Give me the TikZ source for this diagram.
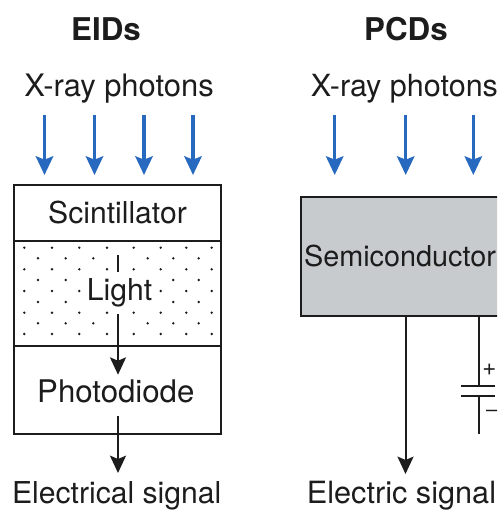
\documentclass[tikz,border=0pt]{standalone}
\usepackage{fontspec}
\setmainfont{TeX Gyre Heros}
\definecolor{photonblue}{RGB}{38, 105, 190}
\definecolor{inkblack}{RGB}{28, 28, 28}
\definecolor{semigray}{RGB}{200, 203, 205}
\usetikzlibrary{arrows.meta, positioning}
\tikzset{
  layerbox/.style={draw=inkblack, line width=1.6pt, minimum width=206.5*0.75pt, inner sep=0pt, text=inkblack, font=\fontsize{22.6}{26}\selectfont},
  plainlabel/.style={text=inkblack, inner sep=0pt, font=\fontsize{22.6}{26}\selectfont},
  headlabel/.style={text=inkblack, inner sep=0pt, font=\fontsize{23.5}{28}\selectfont\bfseries},
  photonarrow/.style={draw=photonblue, line width=2.6pt, -{Stealth[length=14pt, width=13pt, inset=2.5pt]}},
  signalarrow/.style={draw=inkblack, line width=1.5pt, -{Stealth[length=13pt, width=12pt, inset=2.5pt]}},
  wireline/.style={draw=inkblack, line width=1.5pt}
}
\begin{document}
\begin{tikzpicture}[x=0.75pt, y=-0.75pt]
  \useasboundingbox (0,0) rectangle (497,510);
  \clip (0,0) rectangle (497,510);

  % EIDs column
  \node[headlabel] (eids) at (106, 29.5) {EIDs};
  \node[plainlabel, font=\fontsize{23.2}{26}\selectfont] (eidphotons) at (119, 88.5) {X-ray photons};
  \foreach \x [count=\i] in {44.5, 94.5, 144, 193} {
    \coordinate (eidfrom\i) at (\x, 115);
    \coordinate (eidto\i) at (\x, 175);
    \draw[photonarrow] (eidfrom\i) -- (eidto\i);
  }

  \node[layerbox, minimum height=56*0.75pt] (scint) at (117.5, 213) {Scintillator};
  \node[layerbox, minimum height=105*0.75pt] (lightlayer) at (117.5, 293.5) {};
  \node[layerbox, minimum height=88*0.75pt] (photobox) at (117.5, 390) {};

  % dots, two staggered sets of rows
  \foreach \y in {247.7, 269.3, 291, 312.7, 334} {
    \foreach \x in {24.3, 52, 79.3, 107, 133.7, 160.7, 186.3, 211.7} {
      \fill[inkblack] (\x, \y) circle (1pt);
    }
  }
  \foreach \y in {258.3, 280, 302, 323.3} {
    \foreach \x in {38, 65.7, 93.3, 147.7, 173.3, 198.7} {
      \fill[inkblack] (\x, \y) circle (1pt);
    }
  }

  \node[plainlabel, fill=white, minimum width=66*0.75pt, minimum height=36*0.75pt] (light) at (119.5, 293) {Light};
  \node[plainlabel, font=\fontsize{23.4}{26}\selectfont, minimum height=33*0.75pt] (photodiode) at (115.8, 391.5) {Photodiode};
  \node[plainlabel] (elecsignal) at (116.7, 496) {Electrical signal};
  \coordinate (lightstub) at (118, 255);
  \coordinate (lightstubend) at (118, 272);
  \coordinate (lightout) at (118, 314);
  \draw[wireline] (lightstub) -- (lightstubend);
  \draw[signalarrow] (lightout) -- (lightout |- photodiode.north);
  \coordinate (photoout) at (118, 416);
  \coordinate (photoend) at (118, 473);
  \draw[signalarrow] (photoout) -- (photoend);

  % PCDs column
  \node[headlabel] (pcds) at (406, 29.5) {PCDs};
  \node[plainlabel, font=\fontsize{22.9}{26}\selectfont] (pcdphotons) at (404.5, 88.5) {X-ray photons};
  \foreach \x [count=\i] in {334.7, 405.7, 473.3} {
    \coordinate (pcdfrom\i) at (\x, 115);
    \coordinate (pcdto\i) at (\x, 175);
    \draw[photonarrow] (pcdfrom\i) -- (pcdto\i);
  }

  \node[draw=inkblack, fill=semigray, line width=1.6pt, minimum width=209*0.75pt, minimum height=119*0.75pt, inner sep=0pt] (semi) at (405.5, 256.5) {};
  \node[plainlabel, font=\fontsize{21.6}{26}\selectfont] (semilabel) at (400, 256) {Semiconductor};
  \node[plainlabel, font=\fontsize{23}{26}\selectfont] (elecout) at (401.5, 496) {Electric signal};
  \coordinate (semiend) at (405.5, 474);
  \draw[signalarrow] (semi.south) -- (semiend);

  % capacitor
  \coordinate (capfrom) at (478.5, 316);
  \coordinate (capup) at (478.5, 386);
  \coordinate (capdown) at (478.5, 396);
  \coordinate (capend) at (478.5, 434);
  \coordinate (plateupl) at (461, 386);
  \coordinate (plateupr) at (495, 386);
  \coordinate (platedownl) at (461, 396);
  \coordinate (platedownr) at (495, 396);
  \draw[wireline] (capfrom) -- (capup);
  \draw[wireline] (capdown) -- (capend);
  \draw[wireline] (plateupl) -- (plateupr);
  \draw[wireline] (platedownl) -- (platedownr);
  \node[plainlabel, font=\fontsize{18}{20}\selectfont] (capplus) at (489.5, 370) {+};
  \node[plainlabel, font=\fontsize{15}{18}\selectfont] (capminus) at (491.8, 413) {--};
\end{tikzpicture}
\end{document}
